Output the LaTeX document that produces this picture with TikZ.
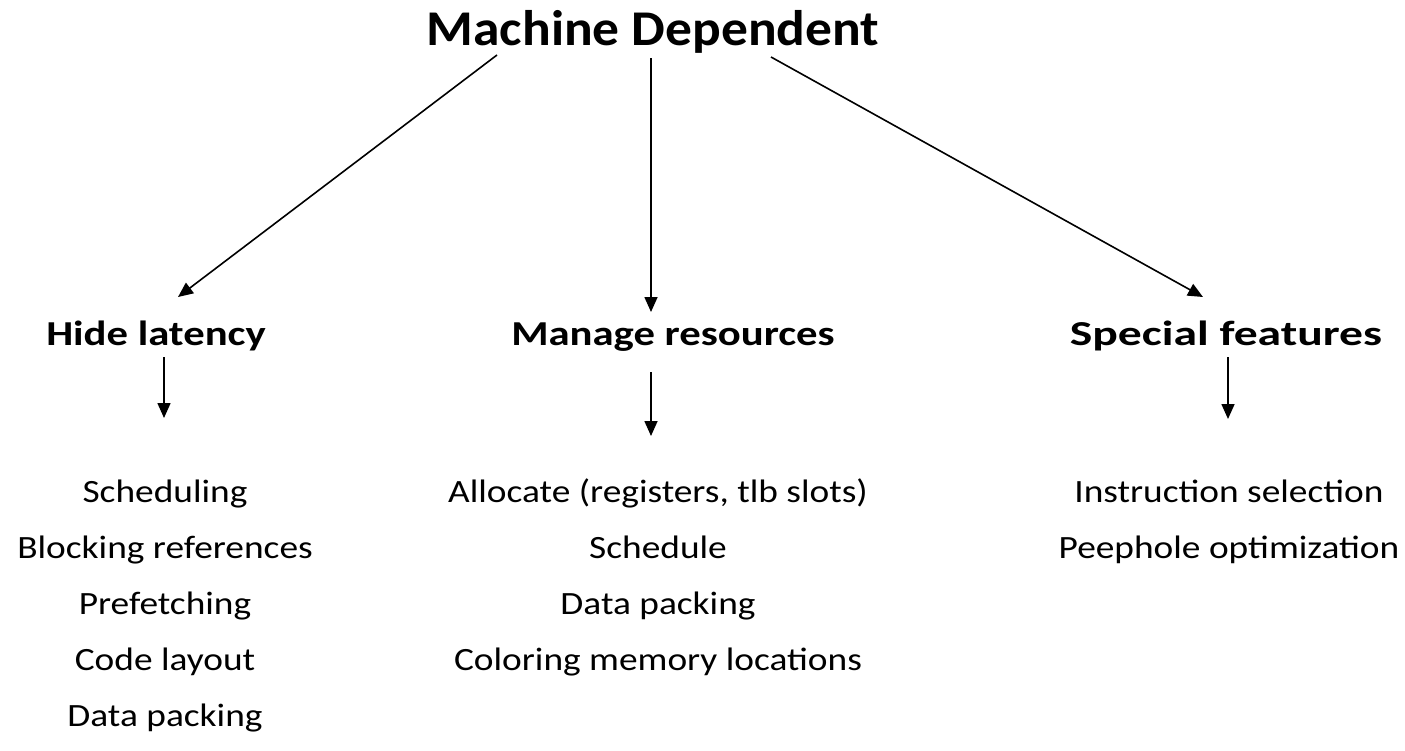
\documentclass[tikz,border=0pt]{standalone}
\usepackage{fontspec}
\setmainfont{Carlito}
\newfontfamily\titlefont[FakeStretch=1.07]{Carlito}
\newfontfamily\headfont[FakeStretch=1.22]{Carlito}
\newfontfamily\headwidefont[FakeStretch=1.36]{Carlito}
\newfontfamily\itemfont[FakeStretch=1.15]{Carlito}
\usetikzlibrary{arrows.meta}
\tikzset{
  title/.style={anchor=base, inner sep=0pt, font=\titlefont\fontsize{50}{60}\selectfont\bfseries},
  head/.style={anchor=base, inner sep=0pt, font=\headfont\fontsize{35}{42}\selectfont\bfseries},
  headwide/.style={head, font=\headwidefont\fontsize{35}{42}\selectfont\bfseries},
  item/.style={anchor=base, inner sep=0pt, font=\itemfont\fontsize{32.5}{38}\selectfont},
  conn/.style={line width=1.6pt, -{Triangle[length=15pt, width=13pt]}}
}
\begin{document}
\begin{tikzpicture}[x=1pt, y=-1pt]
\useasboundingbox (0,0) rectangle (1405,750);
\node[title] (md) at (653,45) {Machine Dependent};
\node[head] (hl) at (156,345) {Hide latency};
\node[head] (mr) at (673,345) {Manage resources};
\node[headwide] (sf) at (1226,345) {Special features};
\coordinate (s1) at (497,55);
\coordinate (e1) at (178,297);
\coordinate (s2) at (651,58);
\coordinate (e2) at (651,312);
\coordinate (s3) at (771,57);
\coordinate (e3) at (1203,297);
\draw[conn] (s1) -- (e1);
\draw[conn] (s2) -- (e2);
\draw[conn] (s3) -- (e3);
\coordinate (l1) at (164,357);
\coordinate (l2) at (164,418);
\coordinate (m1) at (651,372);
\coordinate (m2) at (651,436);
\coordinate (r1) at (1228,357);
\coordinate (r2) at (1228,419);
\draw[conn] (l1) -- (l2);
\draw[conn] (m1) -- (m2);
\draw[conn] (r1) -- (r2);
\node[item] (a1) at (165,502) {Scheduling};
\node[item] (a2) at (165,558) {Blocking references};
\node[item] (a3) at (165,614) {Prefetching};
\node[item] (a4) at (165,670) {Code layout};
\node[item] (a5) at (165,726) {Data packing};
\node[item] (b1) at (658,502) {Allocate (registers, tlb slots)};
\node[item] (b2) at (658,558) {Schedule};
\node[item] (b3) at (658,614) {Data packing};
\node[item] (b4) at (658,670) {Coloring memory locations};
\node[item] (c1) at (1229,502) {Instruction selection};
\node[item] (c2) at (1229,558) {Peephole optimization};
\end{tikzpicture}
\end{document}
